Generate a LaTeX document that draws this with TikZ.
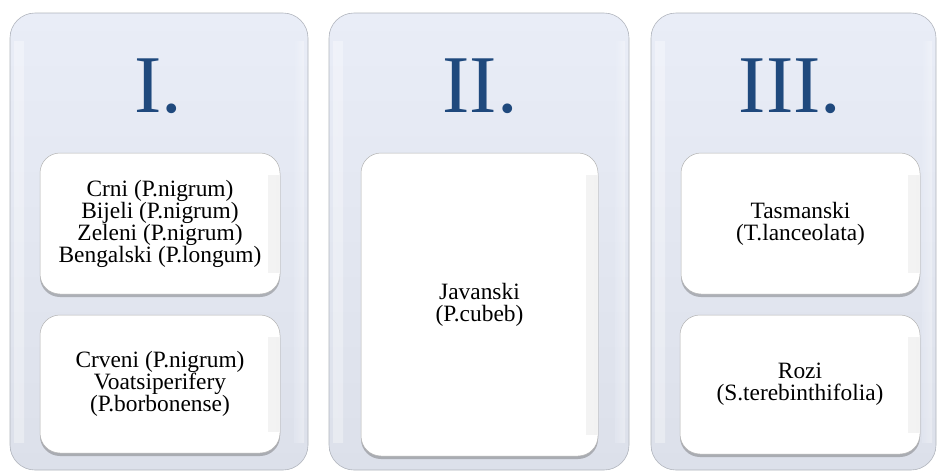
\documentclass[tikz,border=0pt]{standalone}
\usepackage{fontspec}
\setmainfont{Liberation Serif}
\usetikzlibrary{shadows}
\definecolor{numblue}{HTML}{1F497D}
\definecolor{paneltop}{HTML}{E9EDF7}
\definecolor{panelbot}{HTML}{DCE0EA}
\definecolor{paneledge}{HTML}{B0B4BC}
\begin{document}
\begin{tikzpicture}[x=1pt,y=-1pt]
\tikzset{
  panel/.style={draw=paneledge, line width=0.6pt, rounded corners=25pt,
    top color=paneltop, bottom color=panelbot,
    path picture={
      \shade[sharp corners, left color=white, right color=paneltop, opacity=0.35] ([xshift=4pt,yshift=-28pt]path picture bounding box.north west) rectangle ([xshift=14pt,yshift=28pt]path picture bounding box.south west);
      \shade[sharp corners, left color=paneltop, right color=white, opacity=0.35] ([xshift=-14pt,yshift=-28pt]path picture bounding box.north east) rectangle ([xshift=-4pt,yshift=28pt]path picture bounding box.south east);
    }},
  card/.style={draw=black!30, line width=0.5pt, rounded corners=20pt, fill=white,
    drop shadow={shadow xshift=0pt, shadow yshift=-3pt, opacity=0.35, fill=black!70},
    font=\fontsize{23.4}{22}\selectfont, align=center, text=black,
    path picture={
      \shade[sharp corners, left color=white, right color=black!5] ([xshift=-12pt,yshift=-22pt]path picture bounding box.north east) rectangle ([xshift=-1pt,yshift=22pt]path picture bounding box.south east);
    }},
  numeral/.style={font=\fontsize{82}{82}\selectfont, text=numblue, anchor=base, inner sep=0pt}
}
\useasboundingbox (0,0) rectangle (938,472);
% panels
\node[panel, minimum width=298pt, minimum height=457pt] (p1) at (159,241.5) {};
\node[panel, minimum width=300pt, minimum height=457pt] (p2) at (479,241.5) {};
\node[panel, minimum width=285pt, minimum height=457pt] (p3) at (793.5,241.5) {};
% numerals
\node[numeral] (n1) at (158,112) {I.};
\node[numeral] (n2) at (480,112) {II.};
\node[numeral] (n3) at (790,112) {III.};
% cards
\node[card, minimum width=240pt, minimum height=141pt] (c1a) at (160,223.5)
  {Crni (P.nigrum)\\Bijeli (P.nigrum)\\Zeleni (P.nigrum)\\Bengalski (P.longum)};
\node[card, minimum width=240pt, minimum height=138pt] (c1b) at (160,384)
  {Crveni (P.nigrum)\\Voatsiperifery\\(P.borbonense)};
\node[card, minimum width=237pt, minimum height=303pt] (c2) at (479.5,304.5)
  {Javanski\\(P.cubeb)};
\node[card, minimum width=239pt, minimum height=141pt] (c3a) at (800.5,223.5)
  {Tasmanski\\(T.lanceolata)};
\node[card, minimum width=240pt, minimum height=139pt] (c3b) at (800,384.5)
  {Rozi\\(S.terebinthifolia)};
\end{tikzpicture}
\end{document}
